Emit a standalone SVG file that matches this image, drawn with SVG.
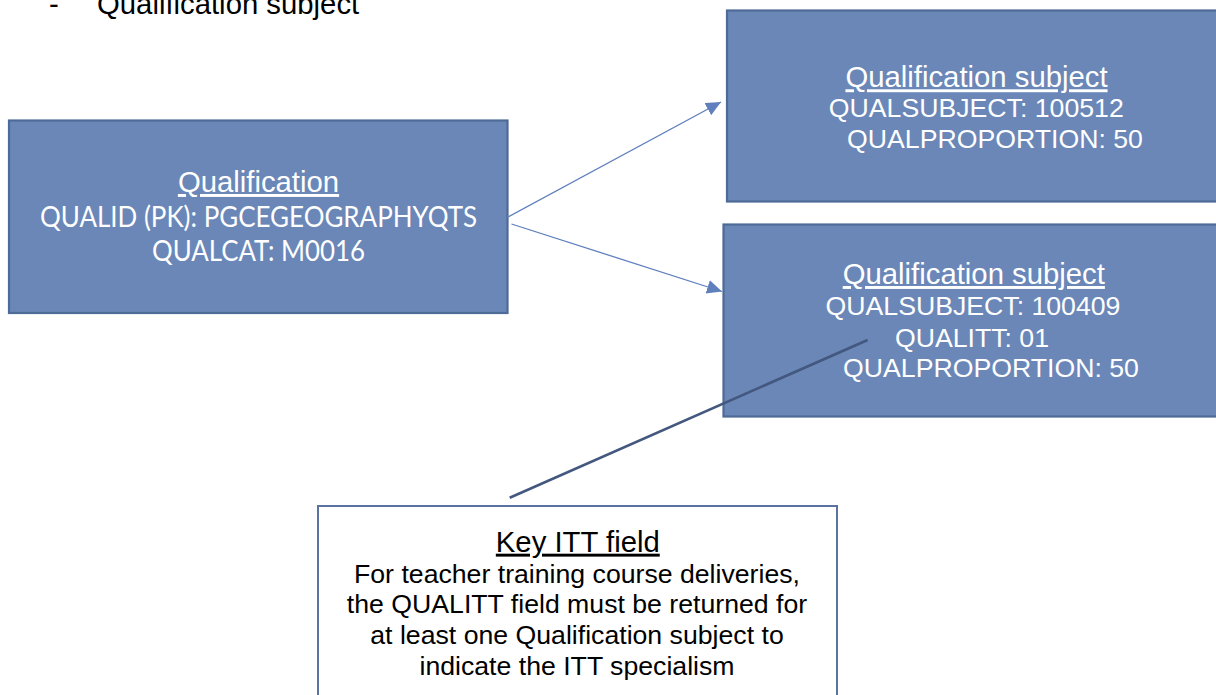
<svg xmlns="http://www.w3.org/2000/svg" width="1216" height="695" viewBox="0 0 1216 695">
<defs>
<style>
.box{fill:#6a87b8;stroke:#4e6a97;stroke-width:2.2}
.note{fill:#ffffff;stroke:#5a73a0;stroke-width:2}
.wt{fill:#ffffff;font-family:"Liberation Sans",Arial,sans-serif;text-anchor:middle}
.cal{fill:#ffffff;font-family:Lato,"Open Sans",sans-serif;text-anchor:middle;font-size:28px}
.bk{fill:#000000;font-family:"Liberation Sans",Arial,sans-serif}
.t{font-size:29.3px;text-decoration:underline}
.b{font-size:26.67px}
.conn{stroke:#5f7fbd;stroke-width:1.3;fill:none}
.call{stroke:#44587f;stroke-width:2.6;fill:none}
</style>
<marker id="ah" markerUnits="userSpaceOnUse" markerWidth="16" markerHeight="15" refX="15" refY="7" orient="auto">
<path d="M0,0 L15,7 L0,14 z" fill="#5f7fbd"/>
</marker>
</defs>
<rect width="1216" height="695" fill="#ffffff"/>
<g id="header">
<text class="bk" x="49" y="14" font-size="29.3px">-</text>
<text class="bk" x="97" y="14" font-size="29.3px">Qualification subject</text>
</g>
<g id="qualification">
<rect class="box" x="9" y="120.5" width="498.5" height="192.5"/>
<text class="wt t" x="258.5" y="192">Qualification</text>
<text class="cal" x="258.5" y="227" textLength="437" lengthAdjust="spacingAndGlyphs">QUALID (PK): PGCEGEOGRAPHYQTS</text>
<text class="cal" x="258.5" y="261" textLength="213" lengthAdjust="spacingAndGlyphs">QUALCAT: M0016</text>
</g>
<g id="subject1">
<rect class="box" x="727" y="10.5" width="520" height="191"/>
<text class="wt t" x="976.5" y="87.3">Qualification subject</text>
<text class="wt b" x="976.3" y="117.3">QUALSUBJECT: 100512</text>
<text class="wt b" x="995" y="148.3">QUALPROPORTION: 50</text>
</g>
<g id="subject2">
<rect class="box" x="723.5" y="224.5" width="520" height="192"/>
<text class="wt t" x="973.8" y="284">Qualification subject</text>
<text class="wt b" x="973" y="315">QUALSUBJECT: 100409</text>
<text class="wt b" x="972" y="346.5">QUALITT: 01</text>
<text class="wt b" x="991" y="377">QUALPROPORTION: 50</text>
</g>
<g id="keynote">
<rect class="note" x="318" y="506" width="519" height="230"/>
<text class="bk t" x="577.8" y="551.7" text-anchor="middle">Key ITT field</text>
<text class="bk b" x="577" y="582.7" text-anchor="middle">For teacher training course deliveries,</text>
<text class="bk b" x="577" y="613.3" text-anchor="middle">the QUALITT field must be returned for</text>
<text class="bk b" x="577" y="644.3" text-anchor="middle">at least one Qualification subject to</text>
<text class="bk b" x="577" y="675" text-anchor="middle">indicate the ITT specialism</text>
</g>
<g id="connectors">
<line class="conn" x1="507" y1="217.5" x2="721" y2="102" marker-end="url(#ah)"/>
<line class="conn" x1="511.5" y1="224" x2="722" y2="291.5" marker-end="url(#ah)"/>
<line class="call" x1="509.7" y1="497.7" x2="867.6" y2="340"/>
</g>
</svg>
